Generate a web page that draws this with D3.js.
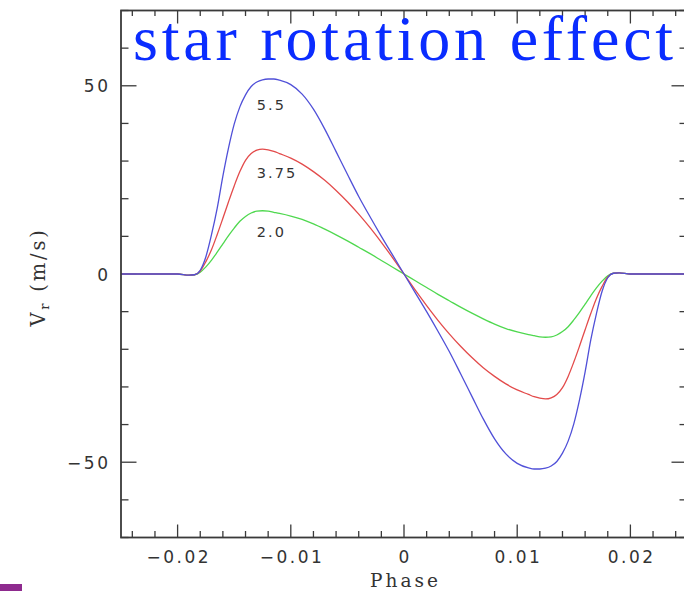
<!DOCTYPE html>
<html>
<head>
<meta charset="utf-8">
<script src="https://cdn.jsdelivr.net/npm/d3@7"></script>
<style>
  html, body { margin: 0; padding: 0; background: #fff; overflow: hidden; }
  svg { display: block; }
</style>
</head>
<body>
<svg id="chart" width="684" height="591"></svg>
<script>
// Orbital phase grid (shared by all curves)
const phase = [
  -0.025, -0.020, -0.019, -0.0185, -0.018, -0.0175, -0.017, -0.0165, -0.016, -0.0155,
  -0.015, -0.0145, -0.014, -0.0135, -0.013, -0.0125, -0.012, -0.0115, -0.011, -0.010,
  -0.009, -0.008, -0.007, -0.006, -0.005, -0.004, -0.003, -0.002, -0.001, 0,
  0.001, 0.002, 0.003, 0.004, 0.005, 0.006, 0.007, 0.008, 0.009, 0.010,
  0.011, 0.0115, 0.012, 0.0125, 0.013, 0.0135, 0.014, 0.0145, 0.015, 0.0155,
  0.016, 0.0165, 0.017, 0.0175, 0.018, 0.0185, 0.019, 0.020, 0.025
];

// Radial-velocity anomaly (m/s) for each rotation speed
const vr55 = [
  0, 0, -0.3, -0.2, 1.0, 4.6, 10.5, 17.5, 26.0, 33.5,
  39.8, 44.4, 47.6, 49.8, 51.0, 51.6, 51.8, 51.8, 51.5, 50.3,
  47.8, 43.8, 38.5, 32.5, 26.5, 20.6, 15.2, 10.0, 5.0, 0,
  -5.0, -10.0, -15.2, -20.6, -26.5, -32.5, -38.5, -43.8, -47.8, -50.3,
  -51.5, -51.8, -51.8, -51.6, -51.0, -49.8, -47.6, -44.4, -39.8, -33.5,
  -26.0, -17.5, -10.5, -4.6, -1.0, 0.2, 0.3, 0, 0
];
const vr375 = [
  0, 0, -0.3, -0.2, 0.8, 3.3, 6.5, 10.5, 14.8, 19.2,
  23.4, 27.2, 30.2, 32.0, 32.9, 33.2, 33.0, 32.6, 32.0, 30.8,
  29.2, 27.2, 24.9, 22.2, 19.2, 15.9, 12.3, 8.4, 4.3, 0,
  -4.3, -8.4, -12.3, -15.9, -19.2, -22.2, -24.9, -27.2, -29.2, -30.8,
  -32.0, -32.6, -33.0, -33.2, -32.9, -32.0, -30.2, -27.2, -23.4, -19.2,
  -14.8, -10.5, -6.5, -3.3, -0.8, 0.2, 0.3, 0, 0
];
const vr20 = [
  0, 0, -0.3, -0.2, 0.5, 1.9, 3.7, 5.8, 8.0, 10.2,
  12.2, 14.0, 15.3, 16.2, 16.7, 16.8, 16.7, 16.4, 16.1, 15.4,
  14.5, 13.3, 11.9, 10.4, 8.8, 7.1, 5.4, 3.6, 1.8, 0,
  -1.8, -3.6, -5.4, -7.1, -8.8, -10.4, -11.9, -13.3, -14.5, -15.4,
  -16.1, -16.4, -16.7, -16.8, -16.7, -16.2, -15.3, -14.0, -12.2, -10.2,
  -8.0, -5.8, -3.7, -1.9, -0.5, 0.2, 0.3, 0, 0
];

const seriesNames = ["2.0", "3.75", "5.5"];
const seriesValues = [vr20, vr375, vr55];
const seriesColors = ["#4fd84f", "#e34b4b", "#5050d8"];

const xTickValues = [-0.02, -0.01, 0, 0.01, 0.02];
const xTickLabels = ["\u22120.02", "\u22120.01", "0", "0.01", "0.02"];
const yTickValues = [-50, 0, 50];
const yTickLabels = ["\u221250", "0", "50"];

const titleText = "star rotation effect";
const xTitle = "Phase";

// ---- layout ----
const svg = d3.select("#chart");
const plotL = 121, plotR = 687, plotT = 10.5, plotB = 537.5;

const x = d3.scaleLinear().domain([-0.025, 0.025]).range([plotL, plotR]);
const y = d3.scaleLinear().domain([-70, 70]).range([plotB, plotT]);

const axisColor = "#3a3a3a";
const tickFont = "'DejaVu Sans', sans-serif";

// minor / major tick sets
const xMinor = d3.range(-0.024, 0.0241, 0.002).map(v => +v.toFixed(4));
const yMinor = d3.range(-70, 71, 10);

const gTicks = svg.append("g").attr("stroke", axisColor).attr("stroke-width", 1.3);

// x ticks on bottom and top, pointing inward
xMinor.forEach(v => {
  const major = xTickValues.some(t => Math.abs(t - v) < 1e-9);
  const len = major ? 13 : 6.5;
  gTicks.append("line").attr("x1", x(v)).attr("x2", x(v)).attr("y1", plotB).attr("y2", plotB - len);
  gTicks.append("line").attr("x1", x(v)).attr("x2", x(v)).attr("y1", plotT).attr("y2", plotT + (major ? 13 : 5.5));
});
// y ticks on left and right, pointing inward
yMinor.forEach(v => {
  const major = yTickValues.includes(v);
  const len = major ? 15.5 : 7.5;
  gTicks.append("line").attr("x1", plotL).attr("x2", plotL + len).attr("y1", y(v)).attr("y2", y(v));
  gTicks.append("line").attr("x1", plotR).attr("x2", plotR - len).attr("y1", y(v)).attr("y2", y(v));
});

// curves
const pts = seriesValues.map(vals => phase.map((p, i) => [p, vals[i]]));
const line = d3.line()
  .x(d => x(d[0]))
  .y(d => y(d[1]))
  .curve(d3.curveMonotoneX);

svg.append("g").selectAll("path")
  .data(pts)
  .join("path")
  .attr("d", line)
  .attr("fill", "none")
  .attr("stroke", (d, i) => seriesColors[i])
  .attr("stroke-width", 1.3);

// frame
svg.append("rect")
  .attr("x", plotL).attr("y", plotT)
  .attr("width", plotR - plotL).attr("height", plotB - plotT)
  .attr("fill", "none").attr("stroke", axisColor).attr("stroke-width", 1.8);

// tick labels
svg.append("g").selectAll("text")
  .data(xTickValues)
  .join("text")
  .attr("x", (d) => x(d) + 1.2)
  .attr("y", 562.5)
  .attr("text-anchor", "middle")
  .attr("font-family", tickFont)
  .attr("font-size", 17)
  .attr("letter-spacing", 2.5)
  .attr("fill", "#333")
  .text((d, i) => xTickLabels[i]);

svg.append("g").selectAll("text")
  .data(yTickValues)
  .join("text")
  .attr("x", 108 + 2.5)
  .attr("y", d => y(d) + 6.5)
  .attr("text-anchor", "end")
  .attr("font-family", tickFont)
  .attr("font-size", 17)
  .attr("letter-spacing", 2.5)
  .attr("fill", "#333")
  .text((d, i) => yTickLabels[i]);

// axis titles
svg.append("text")
  .attr("x", 404 + 1.5)
  .attr("y", 587)
  .attr("text-anchor", "middle")
  .attr("font-family", "'DejaVu Serif', serif")
  .attr("font-size", 18.5)
  .attr("letter-spacing", 3)
  .attr("fill", "#333")
  .text(xTitle);

const yTitle = svg.append("text")
  .attr("transform", "translate(45,277) rotate(-90)")
  .attr("text-anchor", "middle")
  .attr("font-family", "'DejaVu Serif', serif")
  .attr("font-size", 19.5)
  .attr("letter-spacing", 2.8)
  .attr("fill", "#333");
yTitle.append("tspan").text("V");
yTitle.append("tspan").attr("font-size", 13).attr("dy", 4).text("r");
yTitle.append("tspan").attr("dy", -4).text(" (m/s)");

// curve labels, placed under each curve's maximum
const labelPhase = -0.0130;
const labelBelow = [26, 29, 31];
seriesValues.forEach((vals, i) => {
  svg.append("text")
    .attr("x", x(labelPhase))
    .attr("y", y(d3.max(vals)) + labelBelow[i])
    .attr("font-family", tickFont)
    .attr("font-size", 14.5)
    .attr("letter-spacing", 2)
    .attr("fill", "#333")
    .text(seriesNames[i]);
});

// heading
svg.append("text")
  .attr("x", 133)
  .attr("y", 60)
  .attr("font-family", "'Liberation Serif', 'Times New Roman', serif")
  .attr("font-size", 64)
  .attr("letter-spacing", 3.8)
  .attr("fill", "#0a2cff")
  .text(titleText);

// small accent bar in the lower-left corner
svg.append("rect")
  .attr("x", 0).attr("y", 584)
  .attr("width", 22).attr("height", 7)
  .attr("fill", "#8e2a8e");
</script>
</body>
</html>
